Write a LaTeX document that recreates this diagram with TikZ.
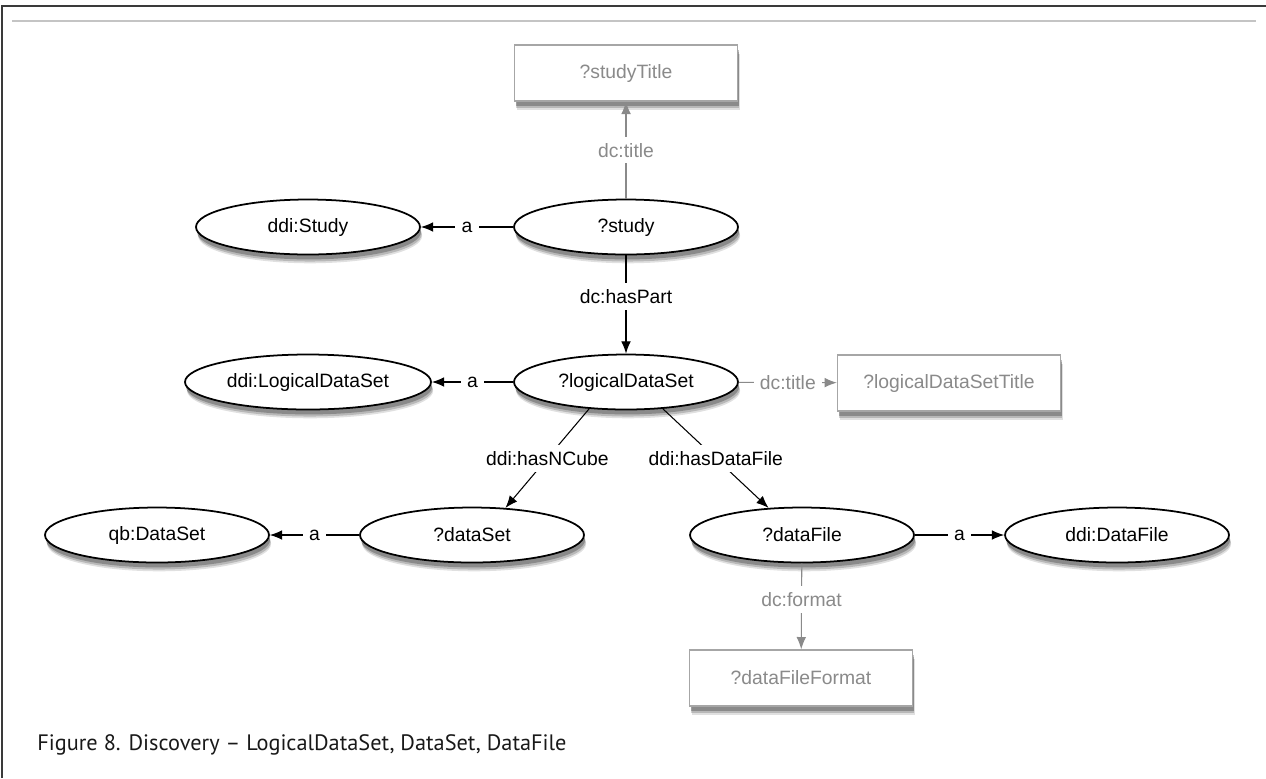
\documentclass[tikz,border=0pt]{standalone}
\usepackage{fontspec}
\setmainfont{Liberation Sans}
\newfontfamily\captionfont{PT Sans}
\usetikzlibrary{arrows.meta, shapes.geometric}

\definecolor{framegray}{HTML}{3A3A3A}
\definecolor{rulegray}{HTML}{C4C4C4}
\definecolor{litgray}{HTML}{8A8A8A}
\definecolor{boxgray}{HTML}{A6A6A6}

\tikzset{
	softshadow/.style = {
		preaction = {fill = black, opacity = 0.12, transform canvas = {xshift = 1.2pt, yshift = -5pt}},
		preaction = {fill = black, opacity = 0.18, transform canvas = {xshift = 1pt, yshift = -4pt}},
		preaction = {fill = black, opacity = 0.25, transform canvas = {xshift = 0.6pt, yshift = -2.8pt}}}
}

\begin{document}
\begin{tikzpicture}[x = 0.02cm, y = -0.02cm, > = {Latex[length = 7pt, width = 5.5pt]},
	font = \fontsize{11}{13}\selectfont,
	resource/.style = {ellipse, draw, line width = 1pt, fill = white, minimum width = 4.48cm, minimum height = 1.1cm, softshadow},
	literal/.style = {rectangle, draw = boxgray, line width = 0.8pt, fill = white, text = litgray,
		minimum width = 4.46cm, minimum height = 1.12cm, softshadow},
	link/.style = {->, line width = 0.6pt},
	litlink/.style = {link, draw = litgray},
	tag/.style = {fill = white, inner sep = 3.5pt},
	littag/.style = {tag, text = litgray}]

	\useasboundingbox (0, 0) rectangle (1266, 778);

	% Page frame + rule

	\draw [framegray, line width = 1.5pt] (2, 778) -- (2, 6) -- (1266, 6);
	\draw [rulegray, line width = 0.8pt] (12, 21) -- (1256, 21);

	% Resources

	\node [resource] (study) at (626, 227) {?study};
	\node [resource] (studyclass) at (308, 227) {ddi:Study};
	\node [resource] (lds) at (626, 382) {?logicalDataSet};
	\node [resource] (ldsclass) at (308, 382) {ddi:LogicalDataSet};
	\node [resource] (dset) at (472, 535) {?dataSet};
	\node [resource] (dsetclass) at (157, 535) {qb:DataSet};
	\node [resource] (dfile) at (802, 535) {?dataFile};
	\node [resource] (dfileclass) at (1117, 535) {ddi:DataFile};

	% Literals

	\node [literal] (studytitle) at (626, 73) {?studyTitle};
	\node [literal] (ldstitle) at (949, 383) {?logicalDataSetTitle};
	\node [literal] (dfileformat) at (801, 678) {?dataFileFormat};

	% Properties

	\draw [litlink] (study) -- node [littag, pos = 0.5] {dc:title} (studytitle);
	\draw [link] (study) -- node [tag, pos = 0.5] {a} (studyclass);
	\draw [link] (study) -- node [tag, pos = 0.42] {dc:hasPart} (lds);
	\draw [link] (lds) -- node [tag, pos = 0.5] {a} (ldsclass);
	\draw [litlink] (lds) -- node [littag, pos = 0.5] {dc:title} (ldstitle);
	\draw [link] (lds.-144) -- node [tag, pos = 0.5] {ddi:hasNCube} (dset.39);
	\draw [link] (lds.-36) -- node [tag, pos = 0.5] {ddi:hasDataFile} (dfile.141);
	\draw [link] (dset) -- node [tag, pos = 0.5] {a} (dsetclass);
	\draw [link] (dfile) -- node [tag, pos = 0.5] {a} (dfileclass);
	\draw [litlink] (dfile) -- node [littag, pos = 0.42] {dc:format} (dfileformat);

	% Caption

	\node [anchor = base west, inner sep = 0pt, text = black!90, font = \captionfont\fontsize{12.7}{15}\selectfont] (caption)
		at (37, 750) {Figure 8. Discovery – LogicalDataSet, DataSet, DataFile};

\end{tikzpicture}
\end{document}
